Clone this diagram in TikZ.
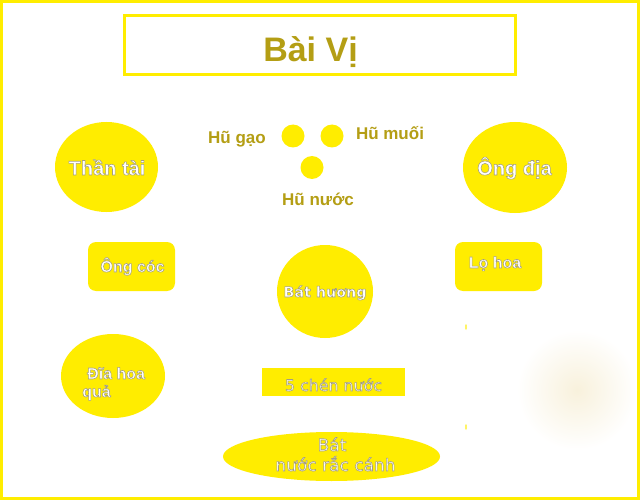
\documentclass[tikz,border=0pt]{standalone}
\usepackage{fontspec}
\setmainfont{Liberation Sans}
\newfontfamily\tahomaface{DejaVu Sans}
\usetikzlibrary{shapes.geometric}
\definecolor{baiyellow}{RGB}{255,237,0}
\definecolor{baigold}{RGB}{180,158,20}
\definecolor{baiblob}{RGB}{248,241,220}
% white text, grey outline
\newcommand{\shtxt}[1]{{\color{white}\special{pdf:literal direct 2 Tr 0.55 w 0.64 0.62 0.5 RG}#1\special{pdf:literal direct 0 Tr}}}

\begin{document}
\begin{tikzpicture}[x=1pt,y=-1pt]
\tikzstyle{every node}+=[inner sep=0pt]
\tikzstyle{dish}=[ellipse,fill=baiyellow]
\tikzstyle{jar}=[circle,fill=baiyellow,minimum size=23pt]
\tikzstyle{tray}=[rectangle,rounded corners=8pt,fill=baiyellow,minimum width=87pt,minimum height=49pt]
\tikzstyle{goldlabel}=[anchor=base,text=baigold,font=\bfseries\fontsize{17}{20}\selectfont]
\tikzstyle{whitelabel}=[anchor=base,font=\bfseries\fontsize{16}{19}\selectfont]
\useasboundingbox (0,0) rectangle (640,500);
\fill [white] (0,0) rectangle (640,500);
\draw [baiyellow,line width=3pt] (1.5,1.5) rectangle (638.5,498.5);
% title
\node [draw=baiyellow,line width=3pt,minimum width=391pt,minimum height=59pt] (title) at (320,45) {};
\node [goldlabel,font=\bfseries\fontsize{34}{40}\selectfont] (titletext) at (310.5,62) {Bài Vị};
% jars
\node [jar] (hugao) at (293,136) {};
\node [jar] (humuoi) at (332,136) {};
\node [jar] (hunuoc) at (312,167.5) {};
\node [goldlabel] (hugaotext) at (237,143) {Hũ gạo};
\node [goldlabel] (humuoitext) at (390,140) {Hũ muối};
\node [goldlabel] (hunuoctext) at (318,205) {Hũ nước};
% big round ones
\node [dish,minimum width=103pt,minimum height=90pt] (thantai) at (106.5,167) {};
\node [whitelabel,font=\bfseries\fontsize{20}{24}\selectfont] (thantaitext) at (107,175) {\shtxt{Thần tài}};
\node [dish,minimum width=104pt,minimum height=91pt] (ongdia) at (515,167.5) {};
\node [whitelabel,font=\bfseries\fontsize{20}{24}\selectfont] (ongdiatext) at (514.5,175) {\shtxt{Ông địa}};
% trays
\node [tray] (ongcoc) at (131.5,266.5) {};
\node [whitelabel] (ongcoctext) at (132.5,272) {\shtxt{Ông cóc}};
\node [tray] (lohoa) at (498.5,266.5) {};
\node [whitelabel] (lohoatext) at (495,268) {\shtxt{Lọ hoa}};
% centre
\node [dish,minimum width=96pt,minimum height=93pt] (bathuong) at (325,291.5) {};
\node [whitelabel,font=\tahomaface\bfseries\fontsize{14.3}{17}\selectfont] (bathuongtext) at (325,297) {\shtxt{Bát hương}};
\node [dish,minimum width=104pt,minimum height=84pt] (diahoa) at (113,376) {};
\node [whitelabel,anchor=base west] (diahoatext) at (87,379) {\shtxt{Đĩa hoa}};
\node [whitelabel,anchor=base west] (quatext) at (82,397) {\shtxt{quả}};
\node [rectangle,fill=baiyellow,minimum width=143pt,minimum height=28pt] (chennuoc) at (333.5,382) {};
\node [whitelabel,font=\tahomaface\fontsize{15.8}{19}\selectfont] (chennuoctext) at (333.5,391) {\shtxt{5 chén nước}};
\node [dish,minimum width=217pt,minimum height=49pt] (batnuoc) at (331.5,456.5) {};
\node [whitelabel,font=\tahomaface\fontsize{17}{20}\selectfont] (battext) at (332,451) {\shtxt{Bát}};
\node [whitelabel,font=\tahomaface\fontsize{17}{20}\selectfont] (racanhtext) at (335.5,471) {\shtxt{nước rắc cánh}};
% faint marks on the right
\shade [inner color=baiblob,outer color=white] (577,390) circle (60pt);
\fill [baiyellow!60] (466,327) ellipse (1pt and 3pt);
\fill [baiyellow!60] (466,427) ellipse (1pt and 3pt);
\end{tikzpicture}
\end{document}
